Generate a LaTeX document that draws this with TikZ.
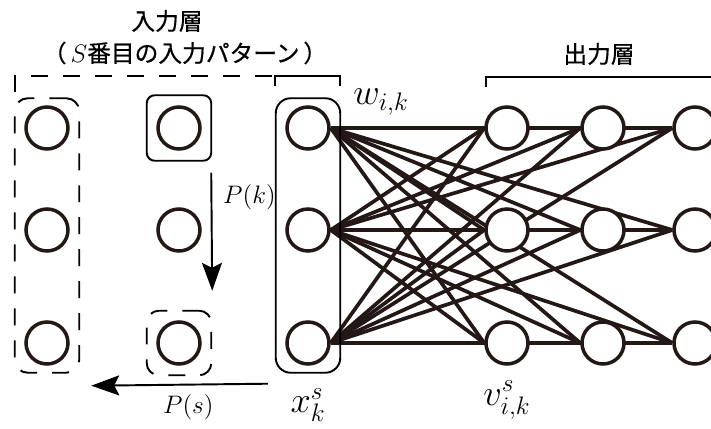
\documentclass[tikz,border=0pt]{standalone}
\usepackage{fontspec}
\newfontfamily\jp[FakeBold=0.6]{Noto Sans CJK JP}
\usepackage{xcolor}
\usepackage{tikz}
\usetikzlibrary{arrows.meta, positioning, fit, backgrounds}
\definecolor{ink}{HTML}{231815}

\begin{document}
\begin{tikzpicture}[
  x=0.02cm, y=-0.02cm,
  neuron/.style={circle, draw=ink, line width=2pt, fill=white, minimum size=0.84cm, inner sep=0pt},
  frame/.style={draw, rounded corners=0.24cm, line width=1.1pt, inner xsep=0.19cm},
  dashframe/.style={frame, dash pattern=on 0.34cm off 0.3cm},
  link/.style={draw=ink, line width=2.1pt},
  bracket/.style={line width=1.1pt},
  arr/.style={-{Stealth[length=0.56cm, width=0.4cm, inset=0.1cm]}, line width=1.1pt},
  lbl/.style={font=\jp\fontsize{13.5}{16}\selectfont},
  sym/.style={inner sep=0.5pt, font=\fontsize{20}{24}\selectfont}
]
  \useasboundingbox (0,0) rectangle (711,429);

  % neurons
  \foreach \r/\y in {1/128, 2/230, 3/343} {
    \node[neuron] (p\r) at (47,\y) {};
    \node[neuron] (c\r) at (179,\y) {};
    \node[neuron] (x\r) at (308,\y) {};
    \node[neuron] (a\r) at (507,\y) {};
    \node[neuron] (b\r) at (603,\y) {};
    \node[neuron] (d\r) at (695,\y) {};
  }

  \begin{scope}[on background layer]
    \foreach \i in {1,2,3}
      \foreach \o in {a1,a2,a3,b1,b2,b3,d1,d2,d3}
        \draw[link] (x\i.east) -- (\o.west);
  \end{scope}

  % frames round the patterns
  \node[dashframe, fit=(p1)(p3), inner ysep=0.14cm, rounded corners=0.26cm] (pool) {};
  \node[frame, fit=(c1), inner ysep=0.2cm, rounded corners=0.16cm] (pick) {};
  \node[dashframe, fit=(c3), inner ysep=0.19cm] (put) {};
  \node[frame, fit=(x1)(x3), inner ysep=0.14cm, rounded corners=0.3cm] (inp) {};

  % brackets
  \draw[bracket, dash pattern=on 0.34cm off 0.3cm] (15,92) -- (15,76) -- (275,76);
  \draw[bracket] (275,86) -- (275,76) -- (340,76) -- (340,86);
  \draw[bracket] (486,87) -- (486,77) -- (720,77);

  \node[lbl] (inlbl) at (167,21) {入力層};
  \node[lbl] (patlbl) at (185,53) {（\,$S$番目の入力パターン\,）};
  \node[lbl] (outlbl) at (599,54) {出力層};

  \draw[arr] ([xshift=-0.02cm, yshift=-0.22cm]pick.south east) -- ([yshift=0.38cm]put.north east)
    node[pos=0.21, right=0.1cm, font=\fontsize{13.5}{16}\selectfont] {$P(k)$};
  \draw[arr] ([xshift=-0.14cm, yshift=-0.2cm]inp.south west) -- ([xshift=0.22cm, yshift=-0.24cm]pool.south east)
    node[pos=0.45, below=0.06cm, font=\fontsize{13.5}{16}\selectfont] {$P(s)$};

  \node[sym] (wik) at (381,102) {$w_{i,k}$};
  \node[sym, font=\fontsize{21}{25}\selectfont] (xks) at (308,405) {$x_k^s$};
  \node[sym, font=\fontsize{21}{25}\selectfont] (vik) at (507,400) {$v_{i,k}^s$};
\end{tikzpicture}
\end{document}
